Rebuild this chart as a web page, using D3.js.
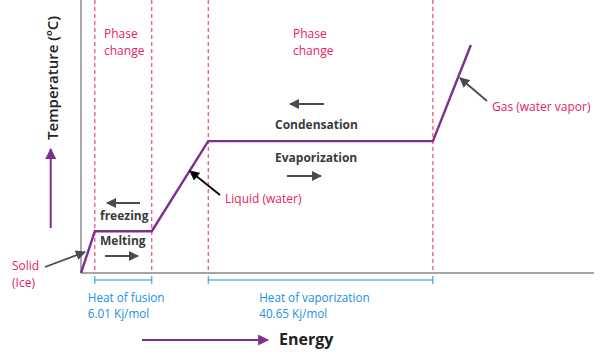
<!DOCTYPE html>
<html>
<head>
<meta charset="utf-8">
<script src="https://cdn.jsdelivr.net/npm/d3@7"></script>
<style>
  body { margin: 0; background: #fff; }
  svg text { font-family: "Open Sans", "Noto Sans", sans-serif; }
</style>
</head>
<body>
<svg id="chart" width="611" height="352"></svg>
<script>
// heating curve of water, energy and temperature in arbitrary units (0-100)
const energy = [0, 2.7, 13.8, 24.8, 68.6, 76.0];
const temperature = [0, 15.3, 15.3, 48.3, 48.3, 83.5];
const phaseBounds = [2.7, 13.8, 24.8, 68.6];
const heats = [
  { from: 2.7, to: 13.8, lines: ["Heat of fusion", "6.01 Kj/mol"] },
  { from: 24.8, to: 68.6, lines: ["Heat of vaporization", "40.65 Kj/mol"] }
];

const purple = "#7d2f8f", pink = "#e8225c", blue = "#1a8fe3", dark = "#3a3a3a";

const svg = d3.select("#chart");

const x = d3.scaleLinear().domain([0, 100]).range([81, 594]);
const y = d3.scaleLinear().domain([0, 100]).range([273, 0]);

const defs = svg.append("defs");
function marker(id, color, w, h) {
  defs.append("marker")
    .attr("id", id)
    .attr("viewBox", "0 0 10 10")
    .attr("refX", 9).attr("refY", 5)
    .attr("markerWidth", w).attr("markerHeight", h)
    .attr("markerUnits", "userSpaceOnUse")
    .attr("orient", "auto")
    .append("path").attr("d", "M0,0L10,5L0,10Z").attr("fill", color);
}
marker("gray", "#4a4a4a", 11, 10);
marker("black", "#000", 11, 10);
marker("purple", purple, 11, 11);

// phase boundaries
svg.selectAll(".phase").data(phaseBounds).join("line")
  .attr("x1", d => x(d)).attr("x2", d => x(d))
  .attr("y1", 0).attr("y2", y(0))
  .attr("stroke", pink).attr("stroke-width", 1)
  .attr("stroke-dasharray", "4,3");

// axes
svg.append("line").attr("x1", x(0)).attr("x2", x(0)).attr("y1", 0).attr("y2", y(0))
  .attr("stroke", "#555").attr("stroke-width", 1);
svg.append("line").attr("x1", x(0)).attr("x2", x(100)).attr("y1", y(0)).attr("y2", y(0))
  .attr("stroke", "#888").attr("stroke-width", 1.6);

// heating curve
const pts = energy.map((e, i) => [e, temperature[i]]);
svg.append("path").datum(pts)
  .attr("fill", "none").attr("stroke", purple).attr("stroke-width", 2.4)
  .attr("stroke-linejoin", "miter")
  .attr("d", d3.line().x(d => x(d[0])).y(d => y(d[1])));

// heat brackets
const by = y(0) + 7;
heats.forEach(h => {
  const g = svg.append("g").attr("stroke", blue).attr("stroke-width", 1);
  g.append("line").attr("x1", x(h.from)).attr("x2", x(h.to)).attr("y1", by).attr("y2", by);
  [h.from, h.to].forEach(v => g.append("line").attr("x1", x(v)).attr("x2", x(v)).attr("y1", by - 4).attr("y2", by + 4));
  const tx = h.from > 20 ? x(h.from) + 51 : x(h.from) - 7;
  h.lines.forEach((l, i) => svg.append("text").attr("fill", blue).attr("font-size", 11.7)
    .attr("x", tx).attr("y", 302 + i * 16).text(l));
});

// phase change labels
function phaseLabel(px) {
  label("Phase", px, 38, pink, 12);
  label("change", px, 55, pink, 12);
}

function arrow(x1, y1, x2, y2, m, color, w) {
  svg.append("line").attr("x1", x1).attr("y1", y1).attr("x2", x2).attr("y2", y2)
    .attr("stroke", color).attr("stroke-width", w || 2)
    .attr("marker-end", `url(#${m})`);
}
function label(txt, px, py, color, size, weight, anchor) {
  return svg.append("text").attr("x", px).attr("y", py).attr("fill", color)
    .attr("font-size", size).attr("font-weight", weight || "normal")
    .attr("text-anchor", anchor || "start").text(txt);
}

phaseLabel(104);
phaseLabel(293);

// process labels
arrow(140, 203, 107, 203, "gray", "#4a4a4a");
label("freezing", 100, 220, dark, 12, "bold");
label("Melting", 100, 245, dark, 12, "bold");
arrow(105, 256, 138, 256, "gray", "#4a4a4a");

arrow(324, 104, 290, 104, "gray", "#4a4a4a");
label("Condensation", 275, 129, dark, 12, "bold");
label("Evaporization", 275, 162, dark, 12, "bold");
arrow(287, 176, 321, 176, "gray", "#4a4a4a");

// state labels
label("Solid", 12, 270, pink, 12);
label("(Ice)", 12, 287, pink, 12);
arrow(45, 267, 85, 252, "gray", "#4a4a4a", 1.8);

label("Liquid (water)", 225, 203, pink, 12);
arrow(220, 195, 190, 171, "black", "#000", 1.8);

label("Gas (water vapor)", 492, 111, pink, 12);
arrow(487, 101, 460, 78, "gray", "#4a4a4a", 1.8);

// axis titles
label("Energy", 279, 345, "#222", 16, "bold");
arrow(142, 340, 268, 340, "purple", purple, 2);
svg.append("text")
  .attr("transform", "translate(58,78) rotate(-90)")
  .attr("text-anchor", "middle").attr("fill", "#222")
  .attr("font-size", 15).attr("font-weight", 600)
  .text("Temperature (ºC)");
arrow(50.7, 228, 50.7, 149, "purple", purple, 2);
</script>
</body>
</html>
